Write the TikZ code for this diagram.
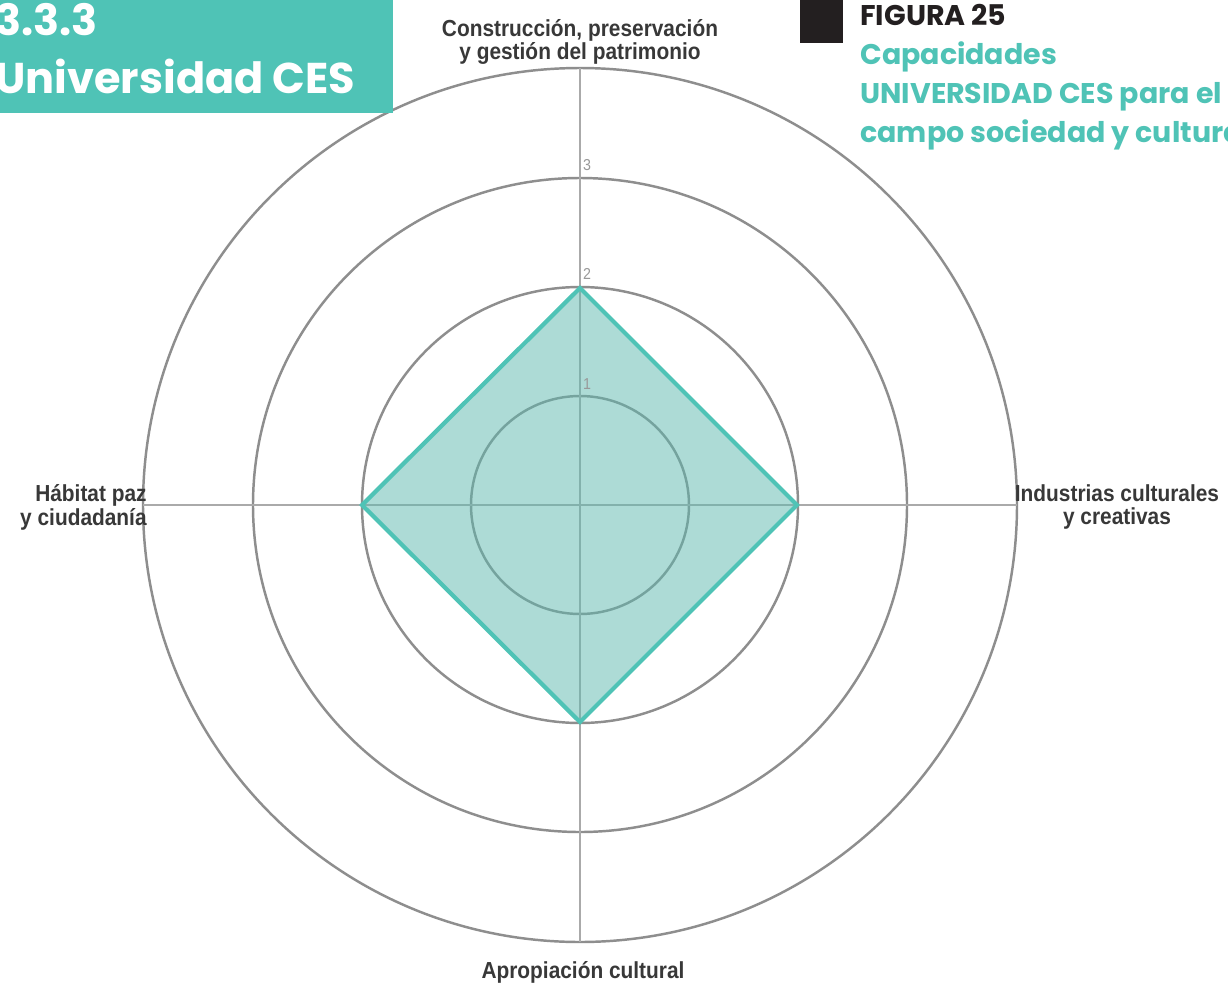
\documentclass[tikz,border=0pt]{standalone}
\usepackage{fontspec}
\setmainfont{Poppins}
\newfontfamily\axisfont[FakeStretch=0.9]{Liberation Sans}
\usetikzlibrary{positioning}
\definecolor{cesteal}{HTML}{4FC3B6}
\definecolor{cesshade}{HTML}{5DB8AF}
\definecolor{ringgray}{HTML}{8E8E8E}
\definecolor{figblack}{HTML}{231F20}

\begin{document}
\begin{tikzpicture}[%
    x=0.02cm,
    y=-0.02cm,
    ring/.style={%
      draw=ringgray,
      line width=1.4pt
    },
    axisline/.style={%
      draw=ringgray!75,
      line width=1.3pt
    },
    axislabel/.style={%
      font=\axisfont\bfseries\fontsize{13.2}{13.6}\selectfont,
      text=black!78,
      align=center,
      inner sep=0pt
    },
    ticklabel/.style={%
      font=\axisfont\fontsize{9}{9}\selectfont,
      text=black!40,
      inner sep=0pt
    },
    capacity/.style={%
      draw=cesteal,
      line width=2.4pt,
      line join=miter,
      fill=cesshade,
      fill opacity=0.5
    },
    heading/.style={%
      font=\bfseries\fontsize{24.5}{28}\selectfont,
      text=white,
      inner sep=0pt
    },
    caption/.style={%
      font=\bfseries\fontsize{16.2}{22.2}\selectfont,
      text=cesteal,
      align=left,
      inner sep=0pt
    }
  ]
    \useasboundingbox[fill=white] (0,0) rectangle (1228,984);

    % rings and axes
    \coordinate (c) at (580,505);
    \foreach \r in {109,218,327,437}
      \draw[ring] (c) circle[radius=\r*0.02cm];
    \coordinate (top)    at (580,68);
    \coordinate (bottom) at (580,942);
    \coordinate (left)   at (143,505);
    \coordinate (right)  at (1017,505);
    \draw[axisline] (top) -- (bottom);
    \draw[axisline] (left) -- (right);

    % values
    \coordinate (vt) at (580,288);
    \coordinate (vr) at (797,505);
    \coordinate (vb) at (580,722);
    \coordinate (vl) at (362,505);
    \draw[capacity] (vt) -- (vr) -- (vb) -- (vl) -- cycle;

    \node[ticklabel] (t1) at (587,384) {1};
    \node[ticklabel] (t2) at (587,274) {2};
    \node[ticklabel] (t3) at (587,165) {3};

    \node[axislabel] (patrimonio) at (580,42)  {Construcción, preservación\\y gestión del patrimonio};
    \node[axislabel] (industrias) at (1117,507) {Industrias culturales\\y creativas};
    \node[axislabel] (apropiacion) at (583,972) {Apropiación cultural};
    \node[axislabel,align=right,anchor=east] (habitat) at (147,507) {Hábitat paz\\y ciudadanía};

    % headers
    \fill[cesteal] (0,0) rectangle (393,113);
    \node[heading,anchor=base west] (secnum)   at (-5,35) {3.3.3};
    \node[heading,anchor=base west] (sectitle) at (-5,93) {Universidad CES};

    \node[fill=figblack,minimum size=43*0.02cm,inner sep=0pt,anchor=north west] (figmark) at (800,0) {};
    \node[caption,text=figblack,anchor=base west] (fignum) at (860,25) {FIGURA 25};
    \node[caption,anchor=north west] (figtitle) at (860,41)
      {Capacidades\\UNIVERSIDAD CES para el\\campo sociedad y cultura};
\end{tikzpicture}
\end{document}
